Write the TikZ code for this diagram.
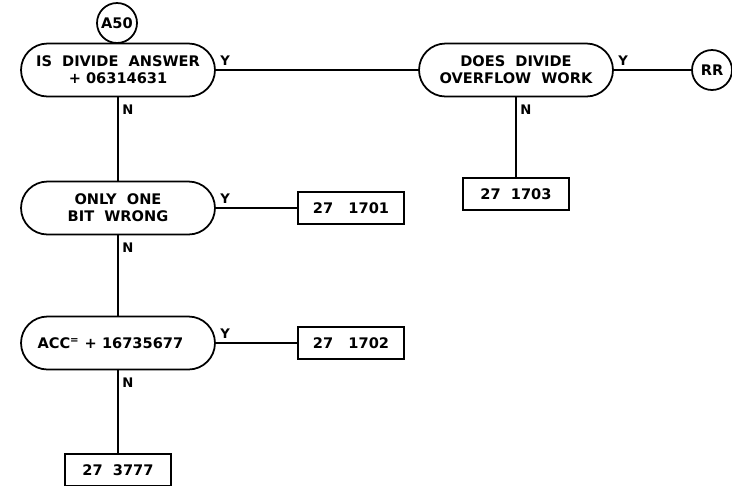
\documentclass[tikz,border=0pt]{standalone}
\usepackage{fontspec}
\setmainfont{DejaVu Sans}
\usetikzlibrary{positioning}
\tikzset{
  fcdecide/.style={draw, line width=1pt, rounded corners=0.53cm, align=center,
    font=\fontsize{8.3}{9.6}\selectfont\bfseries, minimum width=3.88cm, minimum height=1.06cm, inner sep=2pt},
  fcbox/.style={draw, line width=1pt, font=\fontsize{8.3}{9}\selectfont\bfseries,
    minimum width=2.12cm, minimum height=0.63cm, inner sep=2pt},
  fcconn/.style={draw, circle, line width=1pt, font=\fontsize{8.3}{9}\selectfont\bfseries,
    minimum size=0.8cm, inner sep=1pt},
  fcline/.style={line width=1pt},
  fclabel/.style={font=\fontsize{7.5}{8}\selectfont\bfseries, inner sep=2pt},
}

\begin{document}
\begin{tikzpicture}[x=0.02cm, y=-0.02cm]
  \useasboundingbox (0,0) rectangle (732,485);
  % decisions
  \node[fcdecide] (D1) at (118,70) {IS\ \ DIVIDE\ \ ANSWER\\+ 06314631};
  \node[fcdecide] (D2) at (516,70) {DOES\ \ DIVIDE\\OVERFLOW\ \ WORK};
  \node[fcdecide] (D3) at (118,208) {ONLY\ \ ONE\\BIT\ \ WRONG};
  \node[fcdecide] (D4) at (118,343) {ACC\textsuperscript{=}\ + 16735677\ \ \ };
  % connectors
  \node[fcconn] (A50) at (117,23) {A50};
  \node[fcconn] (RR) at (712,70) {RR};
  % exits
  \node[fcbox] (B1703) at (516,194) {27\ \ 1703};
  \node[fcbox] (B1701) at (351,208) {27\ \ \ 1701};
  \node[fcbox] (B1702) at (351,343) {27\ \ \ 1702};
  \node[fcbox] (B3777) at (118,470) {27\ \ 3777};
  % yes branches
  \draw[fcline] (D1.east) -- node[pos=0, fclabel, anchor=south west] {Y} (D2.west);
  \draw[fcline] (D2.east) -- node[pos=0, fclabel, anchor=south west] {Y} (RR.west);
  \draw[fcline] (D3.east) -- node[pos=0, fclabel, anchor=south west] {Y} (B1701.west);
  \draw[fcline] (D4.east) -- node[pos=0, fclabel, anchor=south west] {Y} (B1702.west);
  % no branches
  \draw[fcline] (D1.south) -- node[pos=0, fclabel, anchor=north west, yshift=-2pt] {N} (D3.north);
  \draw[fcline] (D2.south) -- node[pos=0, fclabel, anchor=north west, yshift=-2pt] {N} (B1703.north);
  \draw[fcline] (D3.south) -- node[pos=0, fclabel, anchor=north west, yshift=-2pt] {N} (D4.north);
  \draw[fcline] (D4.south) -- node[pos=0, fclabel, anchor=north west, yshift=-2pt] {N} (B3777.north);
\end{tikzpicture}
\end{document}
